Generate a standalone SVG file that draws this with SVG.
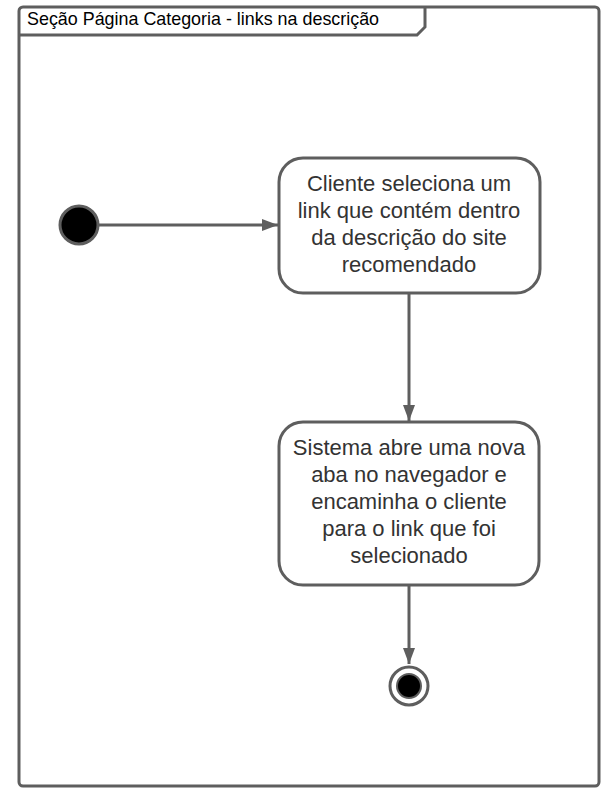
<svg xmlns="http://www.w3.org/2000/svg" width="605" height="791" viewBox="0 0 605 791">
<style>
.ln{stroke:#5e5e5e;stroke-width:3;fill:none}
.box{stroke:#5e5e5e;stroke-width:3;fill:#fff}
.t{font-family:"Liberation Sans",Arial,sans-serif;font-size:22px;fill:#333;text-anchor:middle}
.title{font-family:"Liberation Sans",Arial,sans-serif;font-size:17.9px;fill:#000}
</style>
<defs>
<marker id="ah" markerWidth="16" markerHeight="12" refX="16" refY="6" orient="auto" markerUnits="userSpaceOnUse">
<path d="M0,0 L16,6 L0,12 Z" fill="#5e5e5e"/>
</marker>
</defs>
<rect width="605" height="791" fill="#fff"/>
<g id="frame">
<rect x="19" y="7" width="580" height="779" rx="4" class="box"/>
<path d="M19,35 L417,35 L425,27 L425,7" class="ln"/>
<text x="27" y="25" class="title">Seção Página Categoria - links na descrição</text>
</g>
<g id="connectors">
<line x1="99" y1="225" x2="278" y2="225" class="ln" marker-end="url(#ah)"/>
<line x1="409" y1="293" x2="409" y2="421" class="ln" marker-end="url(#ah)"/>
<line x1="409" y1="585" x2="409" y2="664" class="ln" marker-end="url(#ah)"/>
</g>
<g id="start">
<circle cx="79" cy="225" r="19" fill="#000" stroke="#5e5e5e" stroke-width="3"/>
</g>
<g id="act1">
<rect x="279" y="158" width="261" height="135" rx="24" class="box"/>
<text class="t"><tspan x="409" y="191">Cliente seleciona um</tspan><tspan x="409" y="218">link que contém dentro</tspan><tspan x="409" y="245">da descrição do site</tspan><tspan x="409" y="272">recomendado</tspan></text>
</g>
<g id="act2">
<rect x="279" y="422" width="260" height="163" rx="24" class="box"/>
<text class="t"><tspan x="409" y="455">Sistema abre uma nova</tspan><tspan x="409" y="482">aba no navegador e</tspan><tspan x="409" y="509">encaminha o cliente</tspan><tspan x="409" y="536">para o link que foi</tspan><tspan x="409" y="563">selecionado</tspan></text>
</g>
<g id="end">
<circle cx="409" cy="686" r="19" fill="#fff" stroke="#5e5e5e" stroke-width="3"/>
<circle cx="409" cy="686" r="12" fill="#000" stroke="#5e5e5e" stroke-width="2"/>
</g>
</svg>
